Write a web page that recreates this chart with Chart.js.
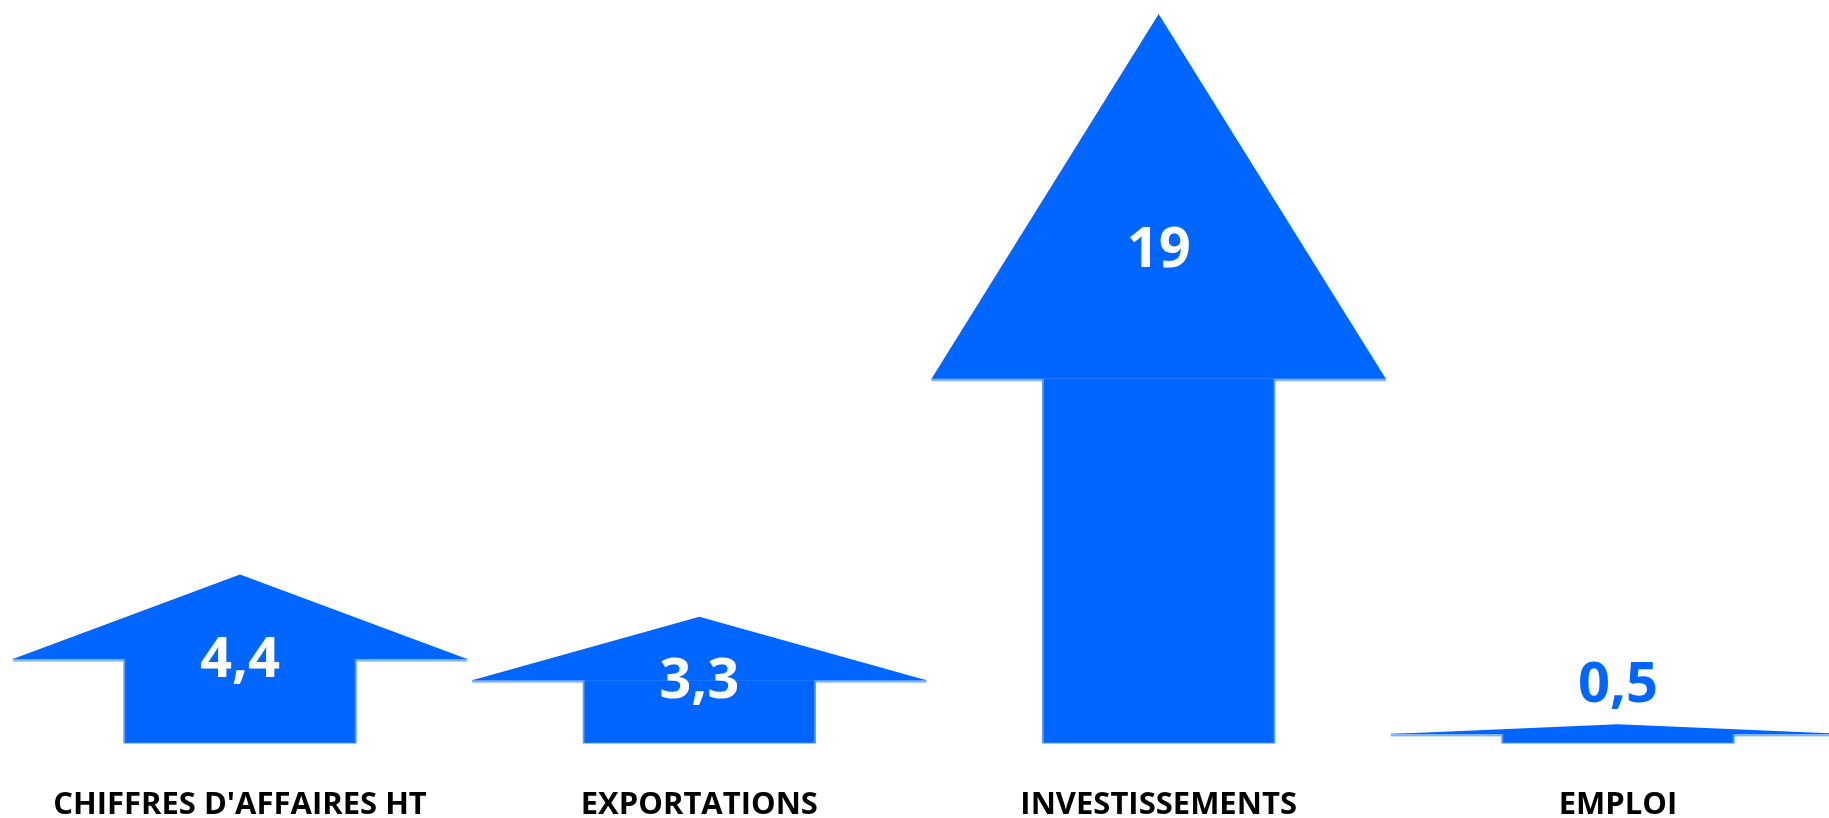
<!DOCTYPE html>
<html>
<head>
<meta charset="utf-8">
<script src="https://cdn.jsdelivr.net/npm/chart.js@4.4.1/dist/chart.umd.min.js"></script>
<style>
  html, body { margin: 0; padding: 0; background: #ffffff; overflow: hidden; }
  #wrap { width: 1829px; height: 818px; position: relative; }
</style>
</head>
<body>
<div id="wrap"><canvas id="c"></canvas></div>
<script>
// ---- data ----
const categories = ["CHIFFRES D'AFFAIRES HT", "EXPORTATIONS", "INVESTISSEMENTS", "EMPLOI"];
const values = [4.4, 3.3, 19, 0.5];
const arrowColor = '#0066FF';

// shaft = lower half of each arrow, head = upper half
const shaftValues = values.map(v => v / 2);

const fmt = v => String(v).replace('.', ',');

const arrowPlugin = {
  id: 'arrowHeads',
  beforeDatasetsDraw(chart) {
    const ctx = chart.ctx;
    const y = chart.scales.y;
    const meta = chart.getDatasetMeta(0);
    ctx.save();
    meta.data.forEach((bar, i) => {
      const v = values[i];
      const cx = bar.x;
      const half = bar.width * 0.975;
      const yBase = y.getPixelForValue(v / 2);
      const yTop = y.getPixelForValue(v);
      // light base strip
      ctx.fillStyle = '#7fb2ff';
      ctx.fillRect(cx - half, yBase - 0.5, half * 2, 3);
      ctx.beginPath();
      ctx.moveTo(cx - half, yBase);
      ctx.lineTo(cx, yTop);
      ctx.lineTo(cx + half, yBase);
      ctx.closePath();
      ctx.fillStyle = arrowColor;
      ctx.fill();
    });
    ctx.restore();
  },
  afterDatasetsDraw(chart) {
    const ctx = chart.ctx;
    const y = chart.scales.y;
    const meta = chart.getDatasetMeta(0);
    ctx.save();
    ctx.font = 'bold 56px "Open Sans"';
    ctx.textAlign = 'center';
    ctx.textBaseline = 'middle';
    meta.data.forEach((bar, i) => {
      const v = values[i];
      const yBase = y.getPixelForValue(v / 2);
      const yTop = y.getPixelForValue(v);
      const headH = yBase - yTop;
      let ty, color = '#ffffff';
      if (headH > 200) {
        ty = yBase - headH / 3 - 6;       // centroid of the head
      } else if (headH > 30) {
        ty = yBase + 2;                    // on the head base
      } else {
        ty = yTop - 38;                    // above a tiny arrow
        color = arrowColor;
      }
      ctx.fillStyle = color;
      ctx.fillText(fmt(v), bar.x, ty);
    });
    ctx.restore();
  }
};

new Chart(document.getElementById('c'), {
  type: 'bar',
  data: {
    labels: categories,
    datasets: [{
      data: shaftValues,
      backgroundColor: arrowColor,
      borderColor: '#5a9cff',
      borderWidth: { left: 2, right: 2, top: 0, bottom: 1 },
      borderSkipped: false,
      barThickness: 233,
      clip: false
    }]
  },
  options: {
    responsive: true,
    maintainAspectRatio: false,
    animation: false,
    layout: { padding: { left: 240, right: 211, top: 14, bottom: 0 } },
    plugins: {
      legend: { display: false },
      tooltip: { enabled: false }
    },
    scales: {
      x: {
        offset: false,
        grid: { display: false, drawTicks: false },
        border: { display: false },
        afterFit(scale) { scale.height = 74.5; },
        ticks: {
          color: '#000000',
          padding: 46,
          maxRotation: 0,
          autoSkip: false,
          font: { family: '"Open Sans"', weight: 'bold', size: 31, lineHeight: 1.0 }
        }
      },
      y: {
        display: false,
        min: 0,
        max: 19
      }
    }
  },
  plugins: [arrowPlugin]
});
</script>
</body>
</html>
